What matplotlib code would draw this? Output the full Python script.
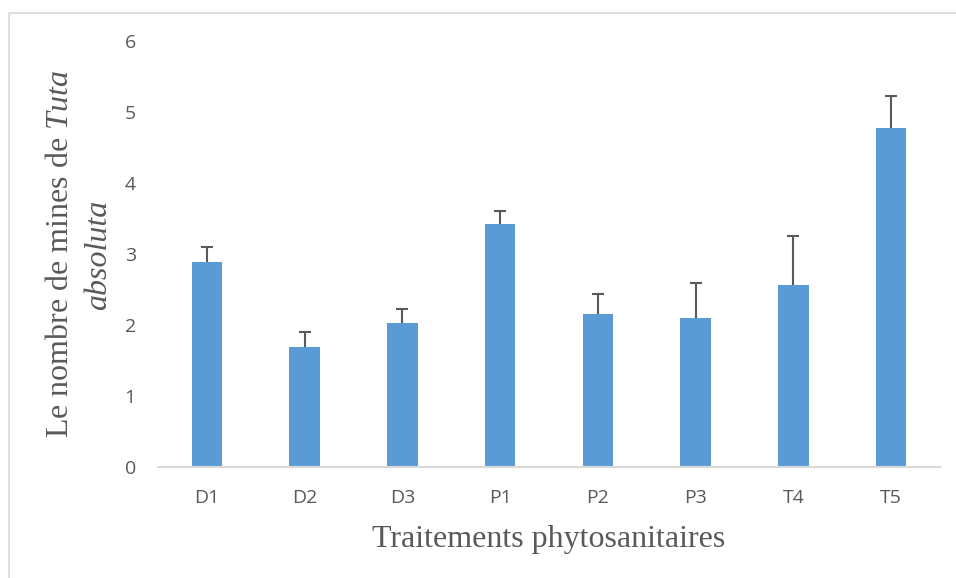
import matplotlib
matplotlib.use("Agg")
import matplotlib.pyplot as plt
from matplotlib.lines import Line2D

categories = ["D1", "D2", "D3", "P1", "P2", "P3", "T4", "T5"]
means = [2.89, 1.69, 2.02, 3.42, 2.15, 2.09, 2.56, 4.78]
errors = [0.21, 0.21, 0.20, 0.19, 0.29, 0.50, 0.69, 0.45]
yticks = [0, 1, 2, 3, 4, 5, 6]

plt.rcParams['mathtext.fontset'] = 'custom'
plt.rcParams['mathtext.rm'] = 'Liberation Serif'
plt.rcParams['mathtext.it'] = 'Liberation Serif:italic'

W, H = 956, 578
fig = plt.figure(figsize=(W / 100, H / 100), dpi=100)
fig.patch.set_facecolor("white")

left, right, top, bottom = 158, 940, 41, 466.7
ax = fig.add_axes([left / W, 1 - bottom / H, (right - left) / W, (bottom - top) / H])

grey_txt = "#595959"
x = range(len(categories))
bars = ax.bar(x, means, width=0.31, color="#5B9BD5", linewidth=0,
              yerr=[[0] * len(errors), errors],
              error_kw=dict(ecolor="#595959", elinewidth=1.5, capsize=4.3, capthick=1.5),
              zorder=2)
caplines = bars.errorbar.lines[1]
if len(caplines) >= 2:
    caplines[0].set_visible(False)

ax.set_xlim(-0.5, len(categories) - 0.5)
ax.set_ylim(0, 6)
ax.set_yticks(yticks)
ax.set_xticks(list(x))
ax.set_xticklabels(categories)
for s in ["top", "right", "left"]:
    ax.spines[s].set_visible(False)
ax.spines["bottom"].set_color("#D9D9D9")
ax.spines["bottom"].set_linewidth(1.5)
ax.tick_params(axis="both", length=0, labelsize=14, labelcolor=grey_txt)
ax.tick_params(axis="y", pad=16)
ax.tick_params(axis="x", pad=16)
for lab in ax.get_xticklabels() + ax.get_yticklabels():
    lab.set_fontfamily("Open Sans")

# axis titles
fig.text(549 / W, 1 - 540 / H, "Traitements phytosanitaires", ha="center", va="center",
         fontsize=23, family="Liberation Serif", color=grey_txt)
fig.text(61 / W, 1 - 254 / H, r"Le nombre de mines de $\mathit{Tuta}$", rotation=90,
         ha="center", va="center", fontsize=23, family="Liberation Serif", color=grey_txt)
fig.text(99 / W, 1 - 255 / H, "absoluta", rotation=90, ha="center", va="center",
         fontsize=23, family="Liberation Serif", style="italic", color=grey_txt)

# chart frame (partial)
fig.add_artist(Line2D([9 / W, 9 / W, 1.0], [0.0, 1 - 13 / H, 1 - 13 / H],
                      transform=fig.transFigure, color="#D9D9D9", linewidth=1.2))

fig.savefig("out.png", dpi=100, facecolor="white")
